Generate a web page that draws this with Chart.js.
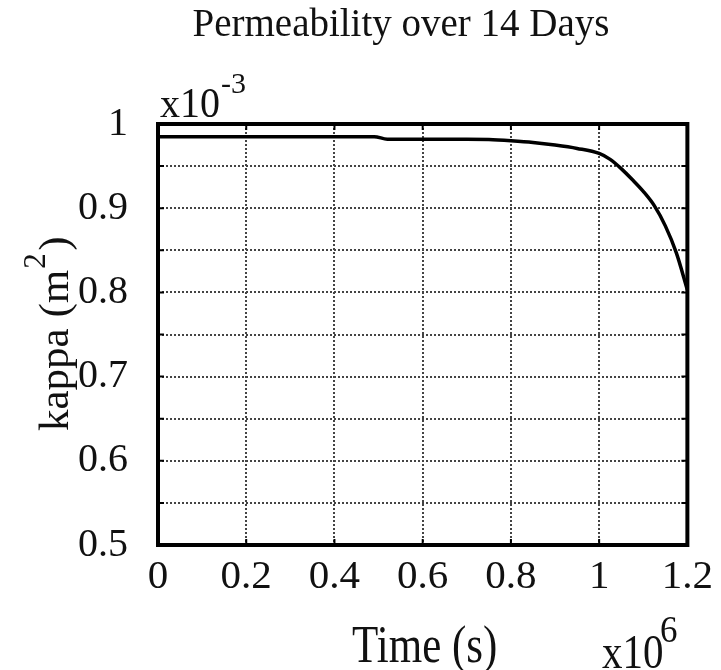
<!DOCTYPE html>
<html>
<head>
<meta charset="utf-8">
<script src="https://cdn.jsdelivr.net/npm/chart.js@4"></script>
<style>
    html, body { margin: 0; padding: 0; background: #fff; }
    #chart-container { width: 721px; height: 670px; }
</style>
</head>
<body>
<div id="chart-container"><canvas id="kappa-chart" width="721" height="670"></canvas></div>
<script>
// Time in units of 1e6 s, kappa in units of 1e-3 m^2
const timeValues = [0, 0.1, 0.2, 0.3, 0.4, 0.49, 0.52, 0.6, 0.7, 0.75, 0.8, 0.85, 0.9, 0.95, 1.0, 1.025, 1.05, 1.075, 1.1, 1.125, 1.15, 1.175, 1.2];
const kappaValues = [0.985, 0.985, 0.985, 0.985, 0.985, 0.985, 0.982, 0.982, 0.982, 0.9815, 0.980, 0.978, 0.975, 0.971, 0.965, 0.958, 0.947, 0.934, 0.920, 0.903, 0.879, 0.847, 0.803];

const xTickLabels = ['0', '0.2', '0.4', '0.6', '0.8', '1', '1.2'];
const yTickLabels = ['0.5', '0.6', '0.7', '0.8', '0.9', '1'];

const chartTitle = 'Permeability over 14 Days';
const xTitle = 'Time (s)';
const yTitle = 'kappa (m';

const SERIF = '"Liberation Serif", "Times New Roman", serif';

let kappaChart = null;

// text that is a bit taller than it is wide, like the original export
function stretchedText(ctx, text, x, y, size, sy) {
    ctx.save();
    ctx.translate(x, y);
    ctx.scale(1, sy);
    ctx.font = size + 'px ' + SERIF;
    ctx.fillText(text, 0, 0);
    ctx.restore();
}

// frame, inner tick marks and all the loose text around the plot
const framePlugin = {
    id: 'frame',
    afterDraw(chart) {
        const ctx = chart.ctx;
        const area = chart.chartArea;
        const xs = chart.scales.x;
        const ys = chart.scales.y;

        ctx.save();
        ctx.strokeStyle = '#000';
        ctx.lineWidth = 2;
        xs.ticks.forEach(t => {
            const px = xs.getPixelForValue(t.value);
            ctx.beginPath();
            ctx.moveTo(px, area.top); ctx.lineTo(px, area.top + 6);
            ctx.moveTo(px, area.bottom); ctx.lineTo(px, area.bottom - 6);
            ctx.stroke();
        });
        ys.ticks.forEach(t => {
            const py = ys.getPixelForValue(t.value);
            ctx.beginPath();
            ctx.moveTo(area.left, py); ctx.lineTo(area.left + 6, py);
            ctx.moveTo(area.right, py); ctx.lineTo(area.right - 6, py);
            ctx.stroke();
        });

        ctx.lineWidth = 4;
        ctx.strokeRect(area.left, area.top, area.right - area.left, area.bottom - area.top);

        ctx.fillStyle = '#111';
        ctx.textBaseline = 'alphabetic';

        // title
        ctx.font = '39px ' + SERIF;
        ctx.textAlign = 'center';
        ctx.fillText(chartTitle, 401, 36);

        // x axis title
        stretchedText(ctx, xTitle, (area.left + area.right) / 2 + 2, 662, 43, 1.25);

        // exponents
        ctx.textAlign = 'left';
        stretchedText(ctx, 'x10', 160, 117, 40, 1.07);
        stretchedText(ctx, '-3', 221, 93, 30, 1.0);
        stretchedText(ctx, 'x10', 602, 668, 41, 1.2);
        stretchedText(ctx, '6', 660, 642, 35, 1.1);

        // y axis title, rotated
        ctx.translate(68, 431);
        ctx.rotate(-Math.PI / 2);
        ctx.font = '43px ' + SERIF;
        ctx.fillText(yTitle, 0, 0);
        const w = ctx.measureText(yTitle).width;
        ctx.font = '31px ' + SERIF;
        ctx.fillText('2', w + 1, -23);
        ctx.font = '43px ' + SERIF;
        ctx.fillText(')', w + 19, 0);
        ctx.restore();
    }
};

function drawKappaChart() {
    const ctx = document.getElementById('kappa-chart').getContext('2d');

    if (kappaChart) {
        kappaChart.destroy();
    }

    const points = timeValues.map((t, i) => ({ x: t, y: kappaValues[i] }));

    const gridStyle = {
        color: '#444',
        lineWidth: 2,
        drawTicks: false
    };
    const borderStyle = { display: false, dash: [2, 2] };

    kappaChart = new Chart(ctx, {
        type: 'line',
        data: {
            datasets: [{
                label: 'kappa',
                data: points,
                borderColor: '#000',
                borderWidth: 3.5,
                pointRadius: 0,
                fill: false,
                cubicInterpolationMode: 'monotone'
            }]
        },
        options: {
            responsive: false,
            animation: false,
            layout: {
                padding: { left: 0, top: 124, right: 33, bottom: 0 }
            },
            scales: {
                x: {
                    type: 'linear',
                    min: 0,
                    max: 1.2,
                    border: borderStyle,
                    grid: gridStyle,
                    afterFit(scale) { scale.height = 125; },
                    ticks: {
                        stepSize: 0.2,
                        maxRotation: 0,
                        padding: 8,
                        color: '#111',
                        font: { family: SERIF, size: 41 },
                        callback: (v) => xTickLabels[Math.round(v / 0.2)]
                    }
                },
                y: {
                    min: 0.5,
                    max: 1,
                    border: borderStyle,
                    grid: gridStyle,
                    afterFit(scale) { scale.width = 158; },
                    ticks: {
                        stepSize: 0.05,
                        padding: 30,
                        color: '#111',
                        font: { family: SERIF, size: 40 },
                        autoSkip: false,
                        callback: (v) => {
                            const k = Math.round(v * 20);
                            return k % 2 === 0 ? yTickLabels[(k - 10) / 2] : '';
                        }
                    }
                }
            },
            plugins: {
                legend: { display: false },
                tooltip: { enabled: false }
            }
        },
        plugins: [framePlugin]
    });
}

document.addEventListener('DOMContentLoaded', drawKappaChart);
</script>
</body>
</html>
